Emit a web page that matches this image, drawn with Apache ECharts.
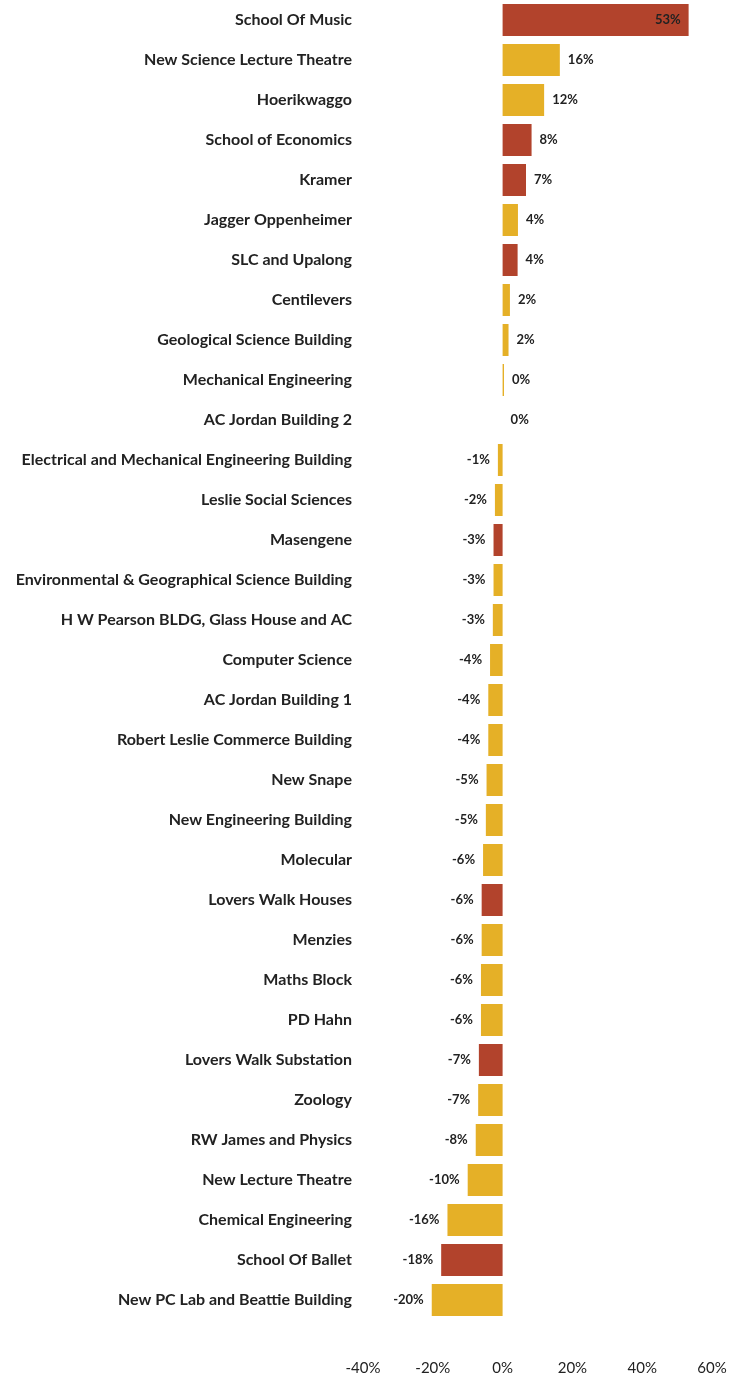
<!DOCTYPE html>
<html lang="en">
<head>
    <meta charset="UTF-8"/>
    <title>Building Change</title>
    <script src="https://cdn.jsdelivr.net/npm/echarts@6/dist/echarts.min.js"></script>
</head>
<body style="margin:0; background:#fff">

<div id="main" style="width:744px; height:1378px;"></div>

<script type="text/javascript">

    var buildings = [
        'School Of Music', 'New Science Lecture Theatre', 'Hoerikwaggo', 'School of Economics',
        'Kramer', 'Jagger Oppenheimer', 'SLC and Upalong', 'Centilevers',
        'Geological Science Building', 'Mechanical Engineering', 'AC Jordan Building 2',
        'Electrical and Mechanical Engineering Building', 'Leslie Social Sciences', 'Masengene',
        'Environmental & Geographical Science Building', 'H W Pearson BLDG, Glass House and AC',
        'Computer Science', 'AC Jordan Building 1', 'Robert Leslie Commerce Building', 'New Snape',
        'New Engineering Building', 'Molecular', 'Lovers Walk Houses', 'Menzies', 'Maths Block',
        'PD Hahn', 'Lovers Walk Substation', 'Zoology', 'RW James and Physics',
        'New Lecture Theatre', 'Chemical Engineering', 'School Of Ballet',
        'New PC Lab and Beattie Building'
    ];

    // percentage change per building
    var changes = [
        53.3, 16.4, 11.9, 8.3, 6.7, 4.4, 4.3, 2.1, 1.7, 0.4, 0,
        -1.35, -2.2, -2.6, -2.6, -2.8, -3.6, -4.1, -4.1, -4.6, -4.8, -5.6,
        -6.0, -6.0, -6.2, -6.2, -6.8, -7.0, -7.7, -10.0, -15.8, -17.6, -20.3
    ];

    // buildings highlighted in red
    var highlighted = [
        'School Of Music', 'School of Economics', 'Kramer', 'SLC and Upalong',
        'Masengene', 'Lovers Walk Houses', 'Lovers Walk Substation', 'School Of Ballet'
    ];

    var xTicks = [-40, -20, 0, 20, 40, 60];

    var RED = '#b2432c';
    var YELLOW = '#e5b027';

    var seriesData = changes.map(function (v, i) {
        var isRed = highlighted.indexOf(buildings[i]) >= 0;
        var pos = v < 0 ? 'left' : 'right';
        if (v > 40) pos = 'insideRight';
        return {
            value: v,
            itemStyle: {color: isRed ? RED : YELLOW},
            label: {position: pos}
        };
    });

    var myChart = echarts.init(document.getElementById('main'));

    var option = {
        animation: false,
        grid: {left: 363, right: 32, top: 0, height: 1320},
        xAxis: {
            type: 'value',
            min: xTicks[0],
            max: xTicks[xTicks.length - 1],
            interval: 20,
            axisLine: {show: false},
            axisTick: {show: false},
            splitLine: {show: false},
            axisLabel: {
                margin: 41,
                fontFamily: 'Lato',
                fontSize: 15,
                color: '#222',
                formatter: '{value}%'
            }
        },
        yAxis: {
            type: 'category',
            inverse: true,
            data: buildings,
            axisLine: {show: false, onZero: false},
            axisTick: {show: false},
            axisLabel: {
                margin: 11,
                fontFamily: 'Lato',
                fontWeight: 'bold',
                fontSize: 16,
                color: '#222'
            }
        },
        series: [
            {
                type: 'bar',
                data: seriesData,
                barCategoryGap: '20%',
                label: {
                    show: true,
                    distance: 8,
                    fontFamily: 'Lato',
                    fontWeight: 'bold',
                    fontSize: 13,
                    color: '#222',
                    formatter: function (p) {
                        return Math.round(p.value) + '%';
                    }
                }
            }
        ]
    };

    myChart.setOption(option);
</script>

</body>
</html>
